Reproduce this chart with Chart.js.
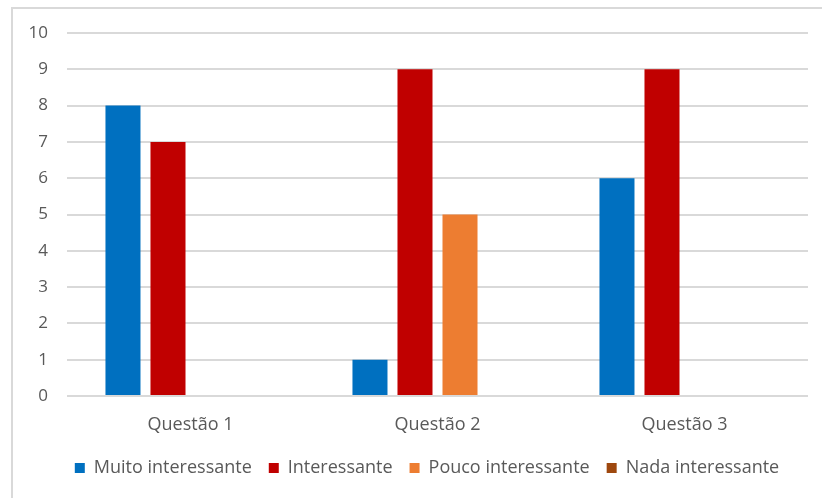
<!DOCTYPE html>
<html>
<head>
<meta charset="utf-8">
<script src="https://cdn.jsdelivr.net/npm/chart.js@4.4.1/dist/chart.umd.min.js"></script>
<style>
  html, body { margin: 0; padding: 0; background: #fff; overflow: hidden; }
  #wrap { position: relative; width: 822px; height: 498px; }
  #frame { position: absolute; left: 11px; top: 7px; width: 900px; height: 600px;
           border-top: 2px solid #d9d9d9; border-left: 2px solid #d9d9d9; box-sizing: border-box; }
  #c { position: absolute; left: 0; top: 0; }
</style>
</head>
<body>
<div id="wrap">
  <div id="frame"></div>
  <canvas id="c" width="822" height="498"></canvas>
</div>
<script>
const categories = ['Questão 1', 'Questão 2', 'Questão 3'];
const muitoInteressante = [8, 1, 6];
const interessante = [7, 9, 9];
const poucoInteressante = [0, 5, 0];
const nadaInteressante = [0, 0, 0];
const yTicks = [0, 1, 2, 3, 4, 5, 6, 7, 8, 9, 10];

const textColor = '#595959';
const fontFamily = '"Open Sans", sans-serif';

// centre the legend row under the whole frame rather than the plot
const legendShift = {
  id: 'legendShift',
  afterLayout(chart) {
    const lg = chart.legend;
    if (lg) { lg.left += 23; lg.right += 23; }
  }
};

new Chart(document.getElementById('c'), {
  type: 'bar',
  data: {
    labels: categories,
    datasets: [
      { label: 'Muito interessante', data: muitoInteressante, backgroundColor: '#0070C0' },
      { label: 'Interessante', data: interessante, backgroundColor: '#C00000' },
      { label: 'Pouco interessante', data: poucoInteressante, backgroundColor: '#ED7D31' },
      { label: 'Nada interessante', data: nadaInteressante, backgroundColor: '#9E480E' }
    ]
  },
  plugins: [legendShift],
  options: {
    responsive: false,
    animation: false,
    devicePixelRatio: 1,
    datasets: { bar: { categoryPercentage: 0.729, barPercentage: 0.778, borderWidth: 0 } },
    layout: { padding: { left: 0, right: 14, top: 33, bottom: 11 } },
    plugins: {
      tooltip: { enabled: false },
      legend: {
        position: 'bottom',
        labels: {
          color: textColor,
          font: { family: fontFamily, size: 18 },
          boxWidth: 10,
          boxHeight: 10,
          padding: 17
        }
      }
    },
    scales: {
      x: {
        grid: { display: false, drawTicks: false },
        border: { display: false },
        ticks: { color: textColor, font: { family: fontFamily, size: 18 }, padding: 18 },
        afterFit: (s) => { s.height = 46; }
      },
      y: {
        min: 0,
        max: 10,
        afterBuildTicks: (s) => { s.ticks = yTicks.map(v => ({ value: v })); },
        grid: { color: '#d9d9d9', lineWidth: 2, drawTicks: false },
        border: { display: false },
        ticks: { color: textColor, font: { family: fontFamily, size: 17 }, padding: 19 },
        afterFit: (s) => { s.width = 67; }
      }
    }
  }
});
</script>
</body>
</html>
